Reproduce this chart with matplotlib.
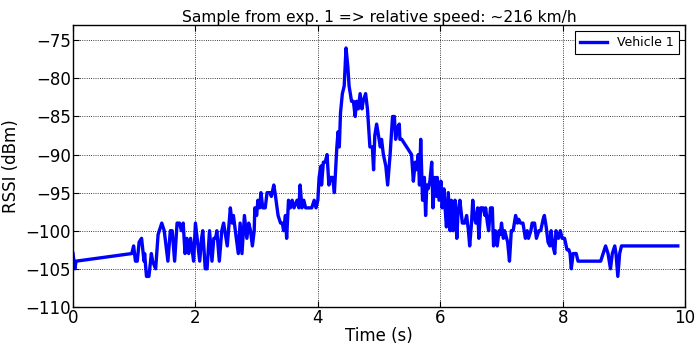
import matplotlib
matplotlib.use("Agg")
import matplotlib.pyplot as plt

# RSSI trace of vehicle 1 (time in s, RSSI in dBm)
time_s = [
    0.00, 0.03, 0.05, 0.96, 0.99, 1.02, 1.05, 1.08, 1.12, 1.16, 1.17, 1.20, 1.24,
    1.28, 1.30, 1.35, 1.39, 1.45, 1.49, 1.55, 1.59, 1.62, 1.66, 1.70, 1.74, 1.77,
    1.80, 1.83, 1.86, 1.89, 1.92, 1.97, 2.00, 2.07, 2.10, 2.12, 2.16, 2.19, 2.23,
    2.27, 2.30, 2.33, 2.35, 2.39, 2.43, 2.46, 2.52, 2.57, 2.60, 2.62, 2.70, 2.73,
    2.76, 2.80, 2.84, 2.87, 2.90, 2.93, 2.96, 2.97, 3.00, 3.02, 3.05, 3.07, 3.10,
    3.14, 3.17, 3.22, 3.24, 3.28, 3.30, 3.35, 3.39, 3.42, 3.44, 3.47, 3.49, 3.52,
    3.55, 3.58, 3.61, 3.66, 3.69, 3.71, 3.74, 3.77, 3.80, 3.85, 3.90, 3.94, 3.97,
    4.00, 4.02, 4.05, 4.06, 4.09, 4.12, 4.15, 4.18, 4.21, 4.24, 4.27, 4.31, 4.33,
    4.35, 4.37, 4.40, 4.43, 4.46, 4.49, 4.51, 4.55, 4.58, 4.61, 4.63, 4.66, 4.69,
    4.72, 4.74, 4.78, 4.81, 4.85, 4.89, 4.91, 4.93, 4.96, 4.99, 5.02, 5.04, 5.07,
    5.11, 5.14, 5.18, 5.22, 5.25, 5.27, 5.30, 5.33, 5.34, 5.37, 5.53, 5.56, 5.59,
    5.61, 5.64, 5.66, 5.68, 5.71, 5.74, 5.76, 5.78, 5.80, 5.83, 5.86, 5.88, 5.91,
    5.94, 5.95, 5.98, 6.01, 6.03, 6.06, 6.07, 6.10, 6.13, 6.16, 6.18, 6.21, 6.24,
    6.27, 6.29, 6.32, 6.36, 6.40, 6.43, 6.46, 6.48, 6.51, 6.53, 6.55, 6.58, 6.61,
    6.63, 6.66, 6.70, 6.73, 6.74, 6.77, 6.79, 6.82, 6.85, 6.87, 6.90, 6.93, 6.96,
    6.98, 7.00, 7.03, 7.05, 7.10, 7.13, 7.16, 7.19, 7.23, 7.26, 7.28, 7.31, 7.35,
    7.39, 7.42, 7.44, 7.48, 7.50, 7.54, 7.57, 7.61, 7.64, 7.68, 7.70, 7.73, 7.76,
    7.79, 7.81, 7.84, 7.87, 7.89, 7.93, 7.96, 7.99, 8.03, 8.07, 8.10, 8.12, 8.14,
    8.17, 8.22, 8.25, 8.62, 8.66, 8.70, 8.74, 8.78, 8.81, 8.85, 8.87, 8.90, 8.93,
    8.96, 9.88,
]
rssi_dbm = [
    -103, -105, -104, -103, -102, -104, -104, -101.5, -101, -104, -103, -106, -106,
    -103, -104, -105, -100.5, -99, -100, -104, -100, -100, -104, -99, -99, -100,
    -99, -103, -101, -103, -101, -104, -99, -104, -101, -100, -105, -105, -100,
    -104, -101, -101, -100, -104, -100, -99, -102, -97, -99, -98, -103, -99,
    -103, -98, -101, -99, -100, -102, -100, -97, -98, -96, -97, -95, -97,
    -97, -95, -95, -95.5, -94, -95, -98, -99, -99, -100, -98, -101, -96,
    -97, -96, -97, -96, -97, -94, -97, -96, -97, -97, -97, -96, -97,
    -96, -93, -91.5, -94, -91, -91, -90, -94, -93, -93, -95, -89, -87,
    -89, -84.5, -82, -81, -76, -78.5, -81, -83, -83, -85, -83, -84, -82,
    -84, -83, -82, -84, -89, -89, -92, -87.5, -86, -87.5, -89, -88, -90,
    -91.5, -94, -90, -85, -85, -88, -86.5, -86, -88, -88, -90, -93.5, -91,
    -92, -90, -94, -88, -96, -93, -98, -94, -94.5, -93.5, -91, -97, -93,
    -95.5, -93, -96, -93.5, -97, -94.5, -96, -99.5, -95, -100, -96, -100, -96,
    -101, -97.5, -96, -99, -99, -98, -100, -102, -99, -96, -98, -99, -97,
    -101, -97, -97, -98, -97, -99, -100, -97, -97, -102, -100, -102, -100,
    -100.5, -99, -101, -100, -101.5, -104, -100, -100, -98, -99, -98.5, -99, -99,
    -101, -100, -101, -100, -99, -99, -101, -100, -100, -98.5, -98, -99.5, -101.5,
    -102, -100, -102, -103, -100, -101, -100, -101, -101, -102.5, -102.5, -103, -105,
    -103, -103, -104, -104, -103, -102, -103, -105, -103, -102, -103, -106, -103,
    -102, -102,
]

plt.rcParams["font.family"] = "DejaVu Sans"

fig = plt.figure(figsize=(6.98, 3.44), dpi=100, facecolor="white")
ax = fig.add_axes([0.1046, 0.108, 0.877, 0.819])

ax.plot(time_s, rssi_dbm, color="#0000ff", linewidth=2.4, label="Vehicle 1")

ax.set_xlim(0, 10)
ax.set_ylim(-110, -73)
ax.set_xticks([0, 2, 4, 6, 8, 10])
ax.set_yticks([-110, -105, -100, -95, -90, -85, -80, -75])

ax.grid(True, color="black", linestyle=":", linewidth=0.6)
ax.tick_params(direction="in", length=4, width=0.8, labelsize=12,
               top=True, right=True, pad=1.5)
for spine in ax.spines.values():
    spine.set_linewidth(1.0)
    spine.set_color("black")

ax.set_xlabel("Time (s)", fontsize=12, labelpad=0)
ax.set_ylabel("RSSI (dBm)", fontsize=12, labelpad=4)
ax.set_title("Sample from exp. 1 => relative speed: ~216 km/h", fontsize=11.2, pad=2)

leg = ax.legend(loc="upper right", fontsize=9, fancybox=False, framealpha=1,
                edgecolor="black", handlelength=2.2, borderpad=0.4,
                borderaxespad=0.5)
leg.get_frame().set_linewidth(0.8)

fig.savefig("out.png", dpi=100, facecolor="white")
